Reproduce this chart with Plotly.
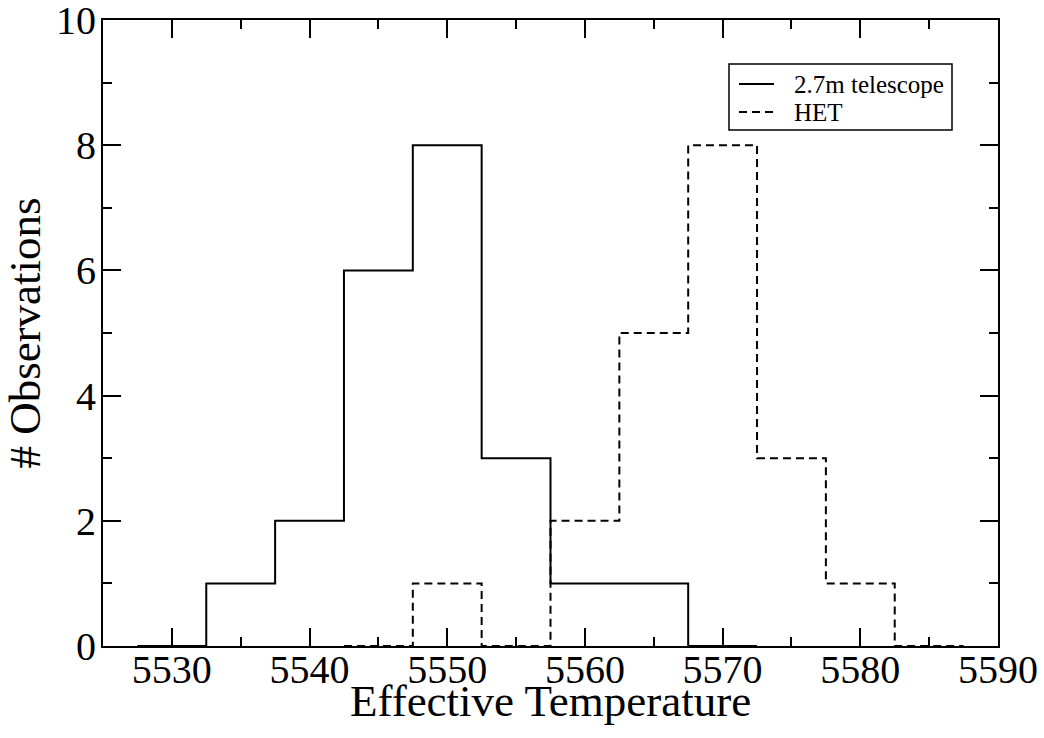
import plotly.graph_objects as go

# Bin edges (left edges) and counts for each histogram
telescope_edges = [5527.5, 5532.5, 5537.5, 5542.5, 5547.5, 5552.5, 5557.5, 5562.5, 5567.5, 5572.5]
telescope_counts = [0, 1, 2, 6, 8, 3, 1, 1, 0]

het_edges = [5542.5, 5547.5, 5552.5, 5557.5, 5562.5, 5567.5, 5572.5, 5577.5, 5582.5, 5587.5]
het_counts = [0, 1, 0, 2, 5, 8, 3, 1, 0]

series_names = ["2.7m telescope", "HET"]

x_ticks = [5530, 5540, 5550, 5560, 5570, 5580, 5590]
y_ticks = [0, 2, 4, 6, 8, 10]

FONT = "Liberation Serif"

fig = go.Figure()
fig.add_trace(go.Scatter(
    x=telescope_edges, y=telescope_counts + [telescope_counts[-1]],
    mode="lines", line=dict(shape="hv", color="black", width=2),
    name=series_names[0], showlegend=False))
fig.add_trace(go.Scatter(
    x=het_edges, y=het_counts + [het_counts[-1]],
    mode="lines", line=dict(shape="hv", color="black", width=2, dash="8px,5px"),
    name=series_names[1], showlegend=False))

axis_common = dict(
    showgrid=False, zeroline=False, showline=True, linecolor="black", linewidth=2,
    mirror="ticks", ticks="inside", ticklen=18, tickwidth=1.5, tickcolor="black",
    tickfont=dict(family=FONT, size=40, color="black"), automargin=False,
    ticklabeloverflow="allow",
)

fig.update_xaxes(
    range=[5525, 5590], tickvals=x_ticks, ticktext=[str(v) for v in x_ticks],
    minor=dict(dtick=5, tick0=5525, ticks="inside", ticklen=9, tickwidth=1.5, tickcolor="black"),
    ticklabelstandoff=-13,
    **axis_common)
fig.update_yaxes(
    range=[0, 10], tickvals=y_ticks, ticktext=[str(v) for v in y_ticks],
    minor=dict(dtick=1, tick0=0, ticks="inside", ticklen=9, tickwidth=1.5, tickcolor="black"),
    ticklabelstandoff=-3,
    title=dict(text="# Observations", font=dict(family=FONT, size=45, color="black"), standoff=24),
    **axis_common)

# Pixel -> paper conversion for the plot area
L, R, T, B = 103, 998, 20, 646
W, H = R - L, B - T
def px(x):
    return (x - L) / W
def py(y):
    return (B - y) / H

# X axis title
fig.add_annotation(text="Effective Temperature", xref="paper", yref="paper",
                   x=0.5, y=py(701), xanchor="center", yanchor="middle", showarrow=False,
                   font=dict(family=FONT, size=45, color="black"))

# Legend box
fig.add_shape(type="rect", xref="paper", yref="paper",
              x0=px(729), x1=px(952), y0=py(130), y1=py(64),
              line=dict(color="black", width=1.5), fillcolor="white", layer="above")
fig.add_shape(type="line", xref="paper", yref="paper",
              x0=px(739), x1=px(774), y0=py(84), y1=py(84),
              line=dict(color="black", width=2), layer="above")
fig.add_shape(type="line", xref="paper", yref="paper",
              x0=px(739), x1=px(774), y0=py(112), y1=py(112),
              line=dict(color="black", width=2, dash="8px,5px"), layer="above")
for name, yy in zip(series_names, [84, 112]):
    fig.add_annotation(text=name, xref="paper", yref="paper", x=px(792), y=py(yy),
                       xanchor="left", yanchor="middle", showarrow=False,
                       font=dict(family=FONT, size=25, color="black"))

fig.update_layout(
    width=1044, height=738,
    margin=dict(l=L, r=1044 - R, t=T, b=738 - B),
    paper_bgcolor="white", plot_bgcolor="white",
    showlegend=False,
)

fig.write_html("out.html", config={"displayModeBar": False},
               post_script="document.body.style.margin='0';")
